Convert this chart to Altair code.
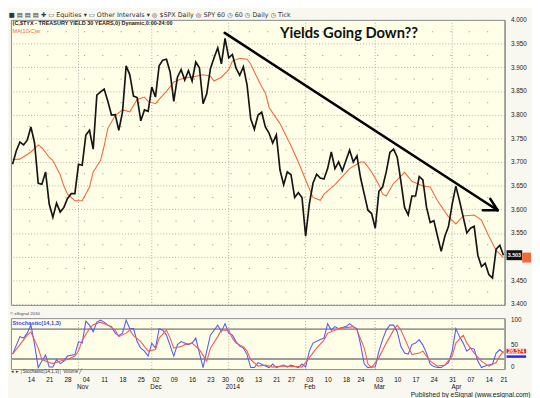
import json
import altair as alt
import pandas as pd

# ---------------- data ----------------
# trading sessions: session number 0 = 2013-10-14, first session = -5 (2013-10-07)
HOLIDAYS = ["2013-11-28", "2013-12-25", "2014-01-01", "2014-01-20", "2014-02-17", "2014-04-18"]
FIRST = -5

# $TYX 30-year treasury yield, daily close
yields = [3.695, 3.723, 3.742, 3.736, 3.746,
          3.774, 3.740, 3.655, 3.653, 3.679,
          3.611, 3.583, 3.613, 3.594, 3.604,
          3.623, 3.633, 3.633, 3.695, 3.693,
          3.757, 3.767, 3.727, 3.841, 3.848,
          3.854, 3.828, 3.799, 3.800, 3.767,
          3.805, 3.903, 3.884, 3.839, 3.836,
          3.787, 3.810, 3.807, 3.858, 3.837,
          3.903, 3.915, 3.917, 3.890, 3.828,
          3.879, 3.895, 3.873, 3.893, 3.871,
          3.911, 3.899, 3.823, 3.844, 3.897,
          3.920, 3.941, 3.907, 3.961, 3.920,
          3.927, 3.898, 3.883, 3.901, 3.863,
          3.791, 3.769, 3.799, 3.805, 3.774,
          3.761, 3.740, 3.757, 3.683, 3.652,
          3.679, 3.673, 3.625, 3.635, 3.625,
          3.543, 3.611, 3.655, 3.674, 3.666,
          3.664, 3.686, 3.721, 3.686, 3.700,
          3.681, 3.703, 3.725, 3.700, 3.713,
          3.666, 3.632, 3.598, 3.591, 3.560,
          3.638, 3.647, 3.679, 3.720, 3.727,
          3.710, 3.659, 3.604, 3.588, 3.628,
          3.628, 3.669, 3.662, 3.604, 3.572,
          3.576, 3.543, 3.511, 3.543, 3.564,
          3.611, 3.649, 3.618, 3.584, 3.550,
          3.560, 3.564, 3.503, 3.479, 3.486,
          3.462, 3.455, 3.516, 3.524, 3.503]

# MA(10,C) orange line, read at these session numbers
ma_sess = [-5, -3, 0, 2, 3, 5, 6, 8, 9, 10, 12, 14, 16, 17, 19, 20, 21, 23, 25, 27,
           29, 31, 32, 34, 35, 37, 39, 41, 42, 45, 47, 49, 50, 52, 54, 55, 57, 59, 60, 61,
           63, 64, 65, 68, 71, 73, 75, 77, 79, 80, 83, 85, 87, 90, 91, 93, 95, 96, 97, 99,
           100, 102, 104, 107, 109, 111, 114, 116, 118, 121, 123, 125, 127, 129]
ma_vals = [3.705, 3.706, 3.721, 3.736, 3.730, 3.710, 3.703, 3.673, 3.649, 3.632,
           3.618, 3.618, 3.647, 3.679, 3.703, 3.734, 3.771, 3.798, 3.810, 3.806,
           3.832, 3.837, 3.828, 3.823, 3.832, 3.849, 3.869, 3.875, 3.877, 3.881,
           3.884, 3.881, 3.871, 3.879, 3.895, 3.913, 3.919, 3.917, 3.907, 3.890,
           3.859, 3.846, 3.815, 3.781, 3.734, 3.700, 3.662, 3.625, 3.619, 3.632,
           3.652, 3.669, 3.686, 3.700, 3.700, 3.679, 3.652, 3.632, 3.628, 3.655,
           3.662, 3.678, 3.659, 3.649, 3.647, 3.618, 3.584, 3.569, 3.586, 3.588,
           3.577, 3.543, 3.513, 3.498]

# Stochastic(14,1,3): %K (blue) and %D (red)
k_sess = [-5, -3, -2, -1, 0, 1, 2, 3, 4, 5, 6, 7, 8, 9, 10, 12, 13, 14, 15, 16,
          17, 18, 19, 20, 21, 22, 23, 24, 25, 26, 27, 28, 29, 30, 31, 32, 33, 34, 35, 36,
          37, 39, 40, 41, 43, 44, 45, 46, 47, 48, 49, 51, 52, 53, 54, 55, 56, 57, 58, 59,
          60, 61, 62, 64, 65, 66, 67, 69, 70, 71, 73, 74, 75, 76, 77, 79, 80, 81, 82, 83,
          84, 86, 87, 88, 89, 90, 91, 92, 93, 94, 95, 96, 97, 98, 99, 100, 101, 102, 103, 104,
          105, 106, 107, 108, 109, 110, 111, 112, 113, 114, 115, 116, 117, 118, 119, 120, 121, 122, 123, 124,
          125, 126, 127, 128, 129]
k_vals = [30, 65, 62, 72, 88, 49, 3, 16, 28, 4, 4, 19, 11, 16, 26, 29, 55, 52, 96, 88,
          75, 94, 98, 94, 88, 85, 72, 67, 72, 98, 81, 81, 55, 42, 36, 26, 52, 42, 81, 78,
          68, 26, 49, 55, 49, 52, 62, 32, 3, 36, 68, 88, 75, 91, 72, 68, 55, 46, 42, 29,
          3, 3, 13, 6, 3, 10, 3, 8, 4, 8, 3, 10, 4, 36, 52, 59, 62, 91, 78, 85,
          81, 85, 91, 85, 81, 49, 10, 3, 4, 4, 36, 59, 78, 88, 88, 75, 45, 32, 30, 49,
          52, 59, 48, 32, 10, 5, 3, 3, 8, 13, 36, 81, 65, 52, 36, 42, 40, 16, 3, 6,
          8, 10, 32, 39, 32]
d_sess = [-5, -3, -1, 0, 2, 3, 5, 6, 8, 10, 12, 13, 14, 16, 17, 19, 21, 23, 24, 26,
          27, 28, 30, 31, 32, 34, 35, 37, 38, 39, 41, 42, 44, 46, 48, 49, 51, 52, 54, 55,
          56, 58, 59, 60, 62, 64, 66, 67, 69, 71, 73, 74, 76, 78, 80, 81, 83, 84, 86, 88,
          89, 91, 92, 93, 95, 97, 99, 100, 101, 103, 104, 106, 107, 109, 111, 113, 115, 116, 118, 119,
          121, 123, 125, 127, 128, 129]
d_vals = [30, 49, 68, 74, 42, 19, 13, 11, 16, 19, 26, 36, 58, 81, 89, 94, 88, 78, 65, 72,
          78, 67, 55, 45, 36, 39, 62, 78, 62, 42, 45, 49, 52, 39, 16, 42, 65, 78, 78, 62,
          52, 45, 36, 19, 6, 8, 4, 5, 6, 5, 5, 4, 23, 42, 58, 72, 78, 81, 83, 85,
          78, 42, 10, 3, 23, 52, 78, 88, 78, 45, 29, 32, 36, 16, 6, 8, 26, 52, 68, 52,
          32, 16, 6, 13, 26, 36]
stoch_levels = [80, 20]

# trend arrow drawn on the chart (session number, yield)
arrow_from = [(52.9, 3.9725), (123.4, 3.598), (125.4, 3.622)]
arrow_to = [(127.4, 3.598), (127.4, 3.598), (127.4, 3.598)]

# minor dotted rows of the price grid
minor_levels = [3.425, 3.475, 3.525, 3.575, 3.625, 3.675, 3.725, 3.775, 3.825, 3.875, 3.925, 3.975]

last_price = "3.503"
last_stoch = "26.574"

TOOLBAR = ("\u25a0  \u25a4  \u25a4  \u25a4  \u271a    \u25ad Equities \u25be   \u25ad Other Intervals \u25be  "
           "\u25ce $SPX Daily  \u25ce SPY 60  \u25f7 60  \u25f7 Daily  \u25f7 Tick")
HEADER = "(C,$TYX - TREASURY YIELD 30 YEARS,0) Dynamic,0:00-24:00"
MA_LABEL = "MA(10,C)w"
NOTE = "Yields Going Down??"
TABS = "\u25c2 \u25b8 \u2502Stochastic(14,1,3)\u2502 Volume \u2571"

# ---------------- derived tables ----------------
sessions = [d for d in pd.bdate_range("2013-10-07", "2014-04-22")
            if d.strftime("%Y-%m-%d") not in HOLIDAYS]
n = min(len(sessions), len(yields))
price_df = pd.DataFrame({"i": [FIRST + k for k in range(n)], "v": yields[:n]})
ma_df = pd.DataFrame({"i": ma_sess, "v": ma_vals})
k_df = pd.DataFrame({"i": k_sess, "s": k_vals})
d_df = pd.DataFrame({"i": d_sess, "s": d_vals})
lvl_df = pd.DataFrame({"s": stoch_levels})
minor_df = pd.DataFrame({"v": minor_levels})
arrow_df = pd.DataFrame({"i": [a[0] for a in arrow_from], "v": [a[1] for a in arrow_from],
                         "i2": [b[0] for b in arrow_to], "v2": [b[1] for b in arrow_to]})

week_ticks, week_labels = [], []
month_ticks, month_labels = [], []
month_ends = []
for k, d in enumerate(sessions):
    num = FIRST + k
    prev = sessions[k - 1] if k > 0 else None
    nxt = sessions[k + 1] if k + 1 < len(sessions) else None
    if prev is not None and d.isocalendar()[1] != prev.isocalendar()[1] and num >= 0:
        week_ticks.append(num)
        week_labels.append(d.strftime("%d"))
    if prev is not None and d.month != prev.month:
        month_ticks.append(num)
        month_labels.append("2014" if d.month == 1 else d.strftime("%b"))
    if nxt is not None and nxt.month != d.month:
        month_ends.append(num)
me_df = pd.DataFrame({"i": month_ends})

week_expr = f"{json.dumps(week_labels)}[indexof({json.dumps(week_ticks)}, datum.value)]"
month_expr = f"{json.dumps(month_labels)}[indexof({json.dumps(month_ticks)}, datum.value)]"

# ---------------- chart ----------------
W, H1, H2 = 504, 291, 52
FONT = "Liberation Sans"
xs = alt.Scale(domain=[-5.45, 129.3], nice=False, zero=False)
ys = alt.Scale(domain=[3.398, 4.0], nice=False, zero=False)
ys2 = alt.Scale(domain=[0, 102], nice=False, zero=False)

yaxis = alt.Axis(orient="right", values=[round(3.4 + 0.05 * k, 3) for k in range(13)],
                 labelExpr="abs(datum.value - 3.5) < 0.001 ? '' : format(datum.value, '.3f')",
                 title=None, labelFontSize=6.5, labelColor="#222", labelFont=FONT,
                 ticks=False, labelPadding=6, grid=True, gridColor="#9a9a9a",
                 gridDash=[1, 2], gridWidth=0.8, domainColor="#8a8a8a", domainWidth=1.2)
X = alt.X("i:Q", scale=xs, axis=None)
Y = alt.Y("v:Q", scale=ys, axis=yaxis)

grid_v = alt.Chart(me_df).mark_rule(color="#a0a0a0", strokeDash=[1, 2], strokeWidth=0.9).encode(x=X)
grid_m = alt.Chart(minor_df).mark_rule(color="#9a9a9a", strokeDash=[1.2, 17.51], strokeDashOffset=2,
                                       strokeWidth=1).encode(y=Y)
ma_line = alt.Chart(ma_df).mark_line(color="#F2693C", strokeWidth=1.1).encode(x=X, y=Y)
px_line = alt.Chart(price_df).mark_line(color="#151515", strokeWidth=1.7).encode(x=X, y=Y)
arrow = alt.Chart(arrow_df).mark_rule(color="black", strokeWidth=2.6, strokeCap="round").encode(
    x=X, x2="i2:Q", y=Y, y2="v2:Q")

hdr = alt.Chart(pd.DataFrame({"i": [-5.0], "v": [3.994], "t": [HEADER]})).mark_text(
    align="left", baseline="middle", font=FONT, fontSize=5.6, fontWeight="bold", color="#222"
).encode(x=X, y=Y, text="t:N")
ma_lbl = alt.Chart(pd.DataFrame({"i": [-5.0], "v": [3.977], "t": [MA_LABEL]})).mark_text(
    align="left", baseline="middle", font=FONT, fontSize=5.6, color="#F2693C"
).encode(x=X, y=Y, text="t:N")
note = alt.Chart(pd.DataFrame({"i": [68.0], "v": [3.973], "t": [NOTE]})).mark_text(
    align="left", baseline="middle", font="Lato", fontSize=15, fontWeight="bold", color="#111"
).encode(x=X, y=Y, text="t:N")

last_v = float(last_price)
box_df = pd.DataFrame({"v": [last_v + 0.0105], "v2": [last_v - 0.0105], "t": [last_price], "m": [last_v]})
box = alt.Chart(box_df).mark_rect(color="#111").encode(
    x=alt.value(W + 2), x2=alt.value(W + 18), y=Y, y2="v2:Q")
box_t = alt.Chart(box_df).mark_text(color="white", font=FONT, fontSize=5.5, fontWeight="bold",
                                    baseline="middle").encode(
    x=alt.value(W + 10), y=alt.Y("m:Q", scale=ys, axis=yaxis), text="t:N")
ma_last = ma_vals[-1]
mbox_df = pd.DataFrame({"v": [ma_last + 0.0105], "v2": [ma_last - 0.0105]})
mbox = alt.Chart(mbox_df).mark_rect(color="#F2693C").encode(
    x=alt.value(W + 18), x2=alt.value(W + 27), y=Y, y2="v2:Q")

main = alt.layer(grid_m, grid_v, ma_line, px_line, arrow, hdr, ma_lbl, note, box, mbox, box_t).properties(
    width=W, height=H1)

# ---- stochastic panel ----
yaxis2 = alt.Axis(orient="right", values=[0, 50, 100], title=None, labelFontSize=6.5,
                  labelColor="#222", labelFont=FONT, ticks=False, grid=False, labelPadding=6,
                  labelFlush=True, domainColor="#8a8a8a", domainWidth=1.2)
Y2 = alt.Y("s:Q", scale=ys2, axis=yaxis2)
week_axis = alt.Axis(orient="bottom", values=week_ticks, labelExpr=week_expr, title=None,
                     ticks=False, domain=False, grid=False, labelFontSize=6.5, labelFont=FONT,
                     labelColor="#111", labelPadding=7.5, labelOverlap=False, labelFlush=False,
                     labelBound=False)
month_axis = alt.Axis(orient="bottom", values=month_ticks, labelExpr=month_expr,
                      title="Published by eSignal (www.esignal.com)", titleFontSize=6.8,
                      titleFont=FONT, titleFontWeight="normal", titleColor="#222",
                      titleAnchor="end", titleAlign="right", titleBaseline="middle",
                      titleX=W + 26, titleY=26.5,
                      ticks=False, domain=False, grid=False, labelFontSize=6.5, labelFont=FONT,
                      labelColor="#111", labelPadding=15, labelOverlap=False, labelFlush=False,
                      labelBound=False)

s_grid = alt.Chart(me_df).mark_rule(color="#a0a0a0", strokeDash=[1, 2], strokeWidth=0.9).encode(x=X)
s_lvl = alt.Chart(lvl_df).mark_rule(color="#9c9c9c", strokeWidth=2).encode(y=Y2)
s_k = alt.Chart(k_df).mark_line(color="#5A5AF0", strokeWidth=1.1).encode(
    x=alt.X("i:Q", scale=xs, axis=week_axis), y=Y2)
s_d = alt.Chart(d_df).mark_line(color="#F25A5A", strokeWidth=1.1).encode(
    x=alt.X("i:Q", scale=xs, axis=month_axis), y=Y2)
s_lbl = alt.Chart(pd.DataFrame({"i": [-5.0], "s": [93.0], "t": ["Stochastic(14,1,3)"]})).mark_text(
    align="left", baseline="middle", font=FONT, fontSize=5.8, fontWeight="bold", color="#3c3cf0"
).encode(x=X, y=Y2, text="t:N")
s_tabs = alt.Chart(pd.DataFrame({"i": [-5.3], "s": [-6.5], "t": [TABS]})).mark_text(
    align="left", baseline="middle", font=FONT, fontSize=4.6, color="#333"
).encode(x=X, y=Y2, text="t:N")
sv = d_vals[-1]
sbox_df = pd.DataFrame({"s": [sv + 4.5], "s2": [sv - 4.5], "m": [sv], "t": [last_stoch]})
s_box = alt.Chart(sbox_df).mark_rect(color="#e8202a").encode(
    x=alt.value(W + 2), x2=alt.value(W + 22), y=Y2, y2="s2:Q")
kv = k_vals[-1]
kbox_df = pd.DataFrame({"s": [kv - 4.5], "s2": [kv - 9.5]})
k_box = alt.Chart(kbox_df).mark_rect(color="#2a2ae8").encode(
    x=alt.value(W + 2), x2=alt.value(W + 22), y=Y2, y2="s2:Q")
s_box_t = alt.Chart(sbox_df).mark_text(color="white", font=FONT, fontSize=5.5, fontWeight="bold",
                                       baseline="middle").encode(
    x=alt.value(W + 12), y=alt.Y("m:Q", scale=ys2, axis=yaxis2), text="t:N")

stoch = alt.layer(s_grid, s_lvl, s_k, s_d, s_lbl, s_tabs, k_box, s_box, s_box_t).resolve_axis(
    x="independent").properties(
    width=W, height=H2,
    title=alt.TitleParams("\u00a9 eSignal 2010", fontSize=4.5, font=FONT, anchor="start",
                          offset=1, color="#444", fontWeight="normal"))

chart = alt.vconcat(main, stoch, spacing=1.5).properties(
    padding=0, background="#F8F8F0",
    title=alt.TitleParams(TOOLBAR, fontSize=6.5, font="DejaVu Sans", anchor="start", offset=-2,
                          color="#333", fontWeight="normal"),
).configure_view(fill="#FFFFE8", stroke="#8a8a8a", strokeWidth=1)

chart.save("out.html", embed_options={"renderer": "svg", "actions": False})
